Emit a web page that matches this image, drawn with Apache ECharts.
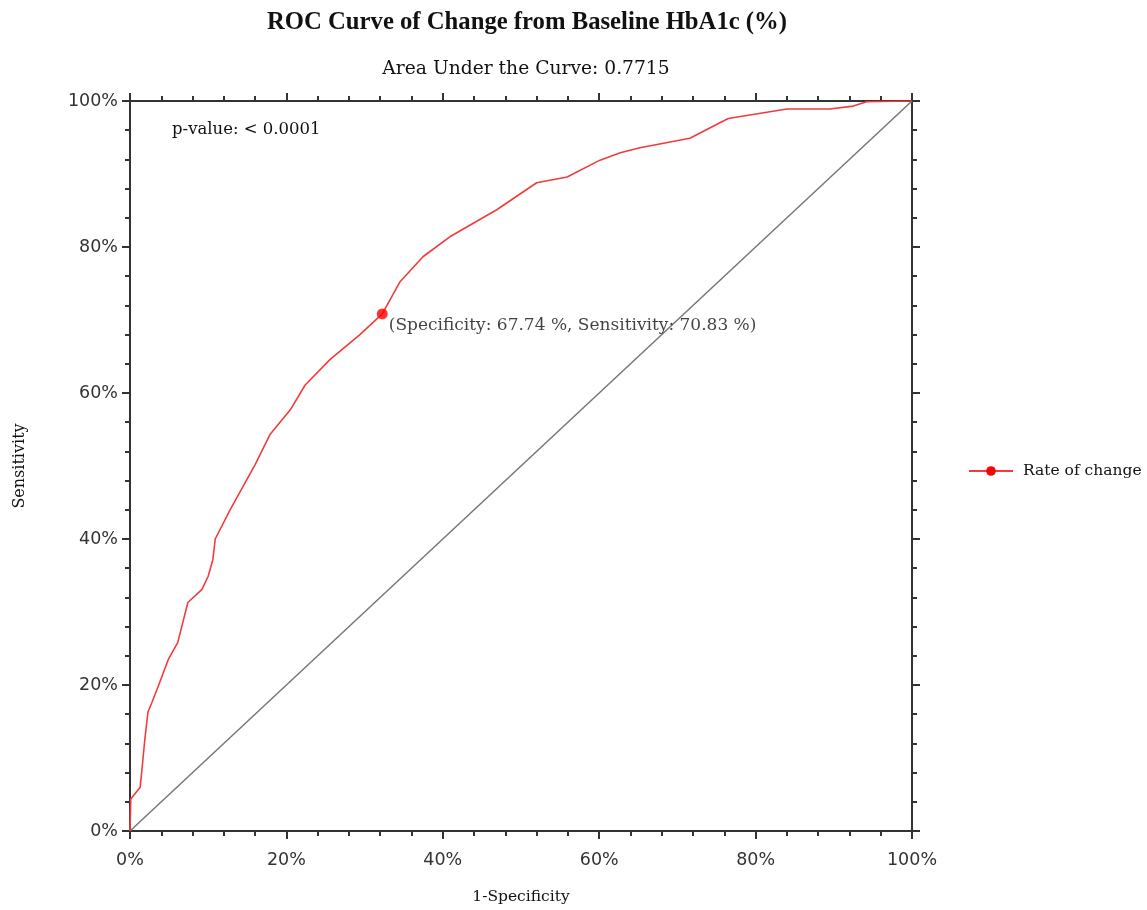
<!DOCTYPE html>
<html>
<head>
<meta charset="utf-8">
<script src="https://cdn.jsdelivr.net/npm/echarts@6/dist/echarts.min.js"></script>
<style>
html,body{margin:0;padding:0;background:#fff;}
#chart{width:1147px;height:910px;}
</style>
</head>
<body>
<div id="chart"></div>
<script>
// ROC curve: 1-Specificity (%) and Sensitivity (%)
const fpr = [0, 0.1, 1.3, 1.5, 1.9, 2.3, 2.8, 3.6, 4.9, 6.1, 7.4, 9.2, 10.0, 10.6, 10.9, 12.8, 16.0, 17.9, 20.5, 22.4, 25.6, 29.4, 32.26, 34.5, 37.5, 40.9, 46.9, 52.0, 55.9, 60.1, 62.7, 65.2, 71.6, 76.5, 84.0, 89.5, 92.5, 94.2, 100];
const tpr = [0, 4.4, 6.0, 8.1, 12.6, 16.3, 17.6, 19.8, 23.5, 25.8, 31.3, 33.1, 34.9, 37.2, 40.0, 44.0, 50.2, 54.3, 57.7, 61.1, 64.6, 68.0, 70.83, 75.2, 78.7, 81.4, 85.1, 88.8, 89.6, 91.9, 92.9, 93.6, 94.9, 97.6, 98.9, 98.9, 99.3, 99.9, 100];
const refX = [0, 100];
const refY = [0, 100];
const cutoff = [32.26, 70.83]; // [1-Specificity, Sensitivity]
const auc = "0.7715";
const pValue = "< 0.0001";
const seriesName = "Rate of change";
const tickValues = [0, 20, 40, 60, 80, 100];

const chart = echarts.init(document.getElementById('chart'));
const serif = '"Liberation Serif", "DejaVu Serif", serif';
const wserif = '"DejaVu Serif", serif';
const sans = '"DejaVu Sans", sans-serif';

const rocData = fpr.map((x, i) => [x, tpr[i]]);
const refData = refX.map((x, i) => [x, refY[i]]);
const spec = (100 - cutoff[0]).toFixed(2);
const sens = cutoff[1].toFixed(2);

function axisCommon(pos, showLabel) {
  return {
    type: 'value', min: 0, max: 100, interval: 20, position: pos,
    axisLine: {show: true, onZero: false, lineStyle: {color: '#333', width: 2}},
    axisTick: {show: true, inside: false, length: 8, lineStyle: {color: '#333', width: 2}},
    minorTick: {show: true, splitNumber: 5, length: 5, lineStyle: {color: '#333', width: 2}},
    splitLine: {show: false},
    axisLabel: {show: showLabel, formatter: '{value}%', fontFamily: sans, fontSize: 17.5, color: '#333'}
  };
}

const xb = axisCommon('bottom', true);
xb.axisLabel.margin = 20;
xb.name = '1-Specificity';
xb.nameLocation = 'middle';
xb.nameGap = 58;
xb.nameTextStyle = {fontFamily: wserif, fontSize: 15.5, color: '#111'};
const xt = axisCommon('top', false);
const yl = axisCommon('left', true);
yl.axisLabel.margin = 12;
yl.name = 'Sensitivity';
yl.nameLocation = 'middle';
yl.nameGap = 102;
yl.nameRotate = 90;
yl.nameTextStyle = {fontFamily: wserif, fontSize: 16, color: '#111'};
const yr = axisCommon('right', false);

chart.setOption({
  backgroundColor: '#fff',
  animation: false,
  title: [
    {text: 'ROC Curve of Change from Baseline HbA1c (%)', left: 522, top: 5, textAlign: 'center',
     textStyle: {fontFamily: serif, fontSize: 24.7, fontWeight: 'bold', color: '#111'}},
    {text: 'Area Under the Curve: ' + auc, left: 521, top: 55, textAlign: 'center',
     textStyle: {fontFamily: wserif, fontSize: 18.7, fontWeight: 'normal', color: '#111'}}
  ],
  graphic: [
    {type: 'text', left: 172, top: 121, style: {text: 'p-value: ' + pValue, font: '16.5px ' + wserif, fill: '#111'}}
  ],
  legend: {
    data: [seriesName], left: 968, top: 463, padding: 0, itemWidth: 44, itemHeight: 12,
    textStyle: {fontFamily: wserif, fontSize: 15.5, color: '#111', padding: [0, 0, 0, 5]}
  },
  grid: {left: 130, right: 235, top: 101, bottom: 78},
  xAxis: [xb, xt],
  yAxis: [yl, yr],
  series: [
    {type: 'line', name: 'ref', data: refData, xAxisIndex: 0, yAxisIndex: 0, symbol: 'none', silent: true,
     lineStyle: {color: '#777', width: 1.5}, z: 2},
    {type: 'line', name: seriesName, data: rocData, xAxisIndex: 0, yAxisIndex: 0, symbol: 'circle', symbolSize: 11,
     showSymbol: false, itemStyle: {color: '#ff0000'}, lineStyle: {color: '#f03c3c', width: 1.6}, z: 3},
    {type: 'scatter', name: 'cutoff', data: [cutoff], xAxisIndex: 0, yAxisIndex: 0, symbolSize: 11,
     itemStyle: {color: '#ff0000'}, z: 4,
     label: {show: true, position: 'right', offset: [-4, 12],
       formatter: '(Specificity: ' + spec + ' %, Sensitivity: ' + sens + ' %)',
       fontFamily: wserif, fontSize: 17, color: '#111'}}
  ]
});
</script>
</body>
</html>
